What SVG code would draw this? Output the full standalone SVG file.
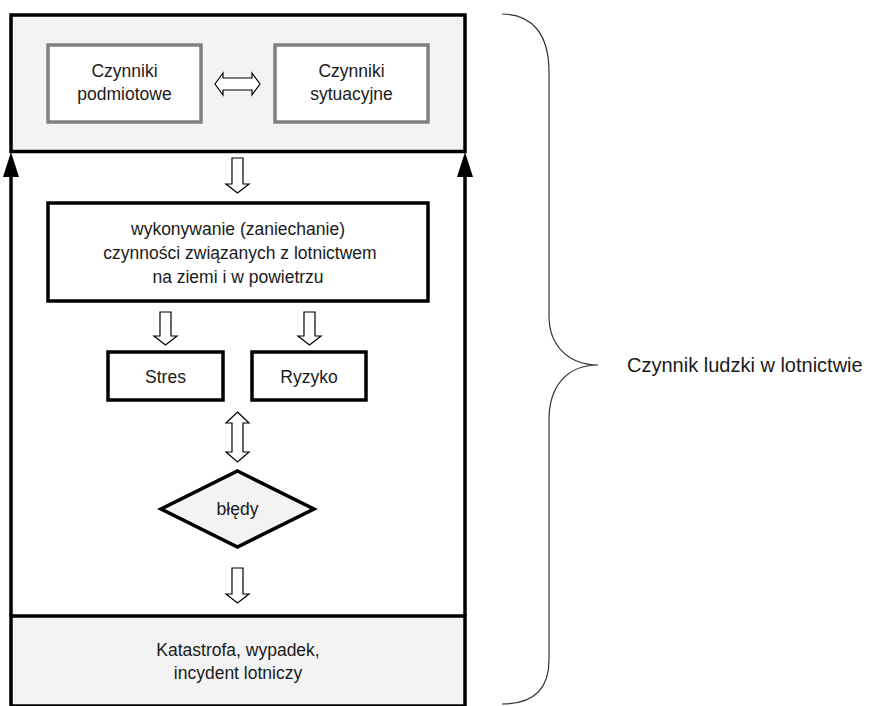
<svg xmlns="http://www.w3.org/2000/svg" width="874" height="706" viewBox="0 0 874 706">
<style>
text{font-family:"Liberation Sans",Arial,sans-serif;font-size:17.5px;fill:#1a1a1a;text-anchor:middle}
.frame{fill:#f3f3f3;stroke:#000;stroke-width:3.5}
.inner{fill:#fff;stroke:#808080;stroke-width:3.5}
.box{fill:#fff;stroke:#000;stroke-width:3.5}
.blk{fill:#fff;stroke:#000;stroke-width:1.2;stroke-linejoin:miter}
.ln{stroke:#000;stroke-width:3.5;fill:none}
</style>
<rect width="874" height="706" fill="#fff"/>
<g id="top-box">
<rect class="frame" x="11" y="15" width="454" height="136.5"/>
</g>
<g id="bottom-box">
<rect class="frame" x="11" y="616" width="454" height="90"/>
<text x="238" y="656">Katastrofa, wypadek,</text>
<text x="238" y="679">incydent lotniczy</text>
</g>
<g id="connectors">
<line class="ln" x1="11" y1="616" x2="11" y2="177"/>
<path d="M11 152 L19 177 L3 177 Z" fill="#000"/>
<line class="ln" x1="465" y1="616" x2="465" y2="177"/>
<path d="M465 152 L473 177 L457 177 Z" fill="#000"/>
<path class="blk" d="M215 84 L223 73 L223 78 L252 78 L252 73 L260 84 L252 95 L252 90 L223 90 L223 95 Z"/>
<path class="blk" d="M232 158 L243 158 L243 184 L249 184 L237.5 193 L226 184 L232 184 Z"/>
<path class="blk" d="M160 312 L171 312 L171 336 L177 336 L165.5 345 L154 336 L160 336 Z"/>
<path class="blk" d="M304 312 L315 312 L315 336 L321 336 L309.5 345 L298 336 L304 336 Z"/>
<path class="blk" d="M237.5 412 L249 423 L243 423 L243 452 L249 452 L237.5 462 L226 452 L232 452 L232 423 L226 423 Z"/>
<path class="blk" d="M232 568 L243 568 L243 594 L249 594 L237.5 603 L226 594 L232 594 Z"/>
</g>
<g id="czynniki-podmiotowe">
<rect class="inner" x="48" y="45" width="153" height="77"/>
<text x="124.5" y="77">Czynniki</text>
<text x="124.5" y="100">podmiotowe</text>
</g>
<g id="czynniki-sytuacyjne">
<rect class="inner" x="275" y="45" width="153" height="77"/>
<text x="351.5" y="77">Czynniki</text>
<text x="351.5" y="100">sytuacyjne</text>
</g>
<g id="wykonywanie">
<rect class="box" x="48" y="203" width="380" height="98"/>
<text x="238" y="235">wykonywanie (zaniechanie)</text>
<text x="240" y="259">czynności związanych z lotnictwem</text>
<text x="238" y="283">na ziemi i w powietrzu</text>
</g>
<g id="stres">
<rect class="box" x="108" y="352" width="115" height="48"/>
<text x="165.5" y="383">Stres</text>
</g>
<g id="ryzyko">
<rect class="box" x="252" y="352" width="114" height="48"/>
<text x="309" y="383">Ryzyko</text>
</g>
<g id="bledy">
<path d="M237.5 471 L314 509 L237.5 547 L161 509 Z" fill="#f3f3f3" stroke="#000" stroke-width="3.5" stroke-linejoin="miter"/>
<text x="237.5" y="515">błędy</text>
</g>
<g id="bracket">
<path d="M502 14 C532 14 549 34 549 72 L549 316 C549 345 568 365 598 365 C568 365 549 385 549 420 L549 660 C549 690 532 704 502 704" fill="none" stroke="#333" stroke-width="1.2"/>
<text x="627" y="372" style="text-anchor:start;font-size:20px">Czynnik ludzki w lotnictwie</text>
</g>
</svg>
